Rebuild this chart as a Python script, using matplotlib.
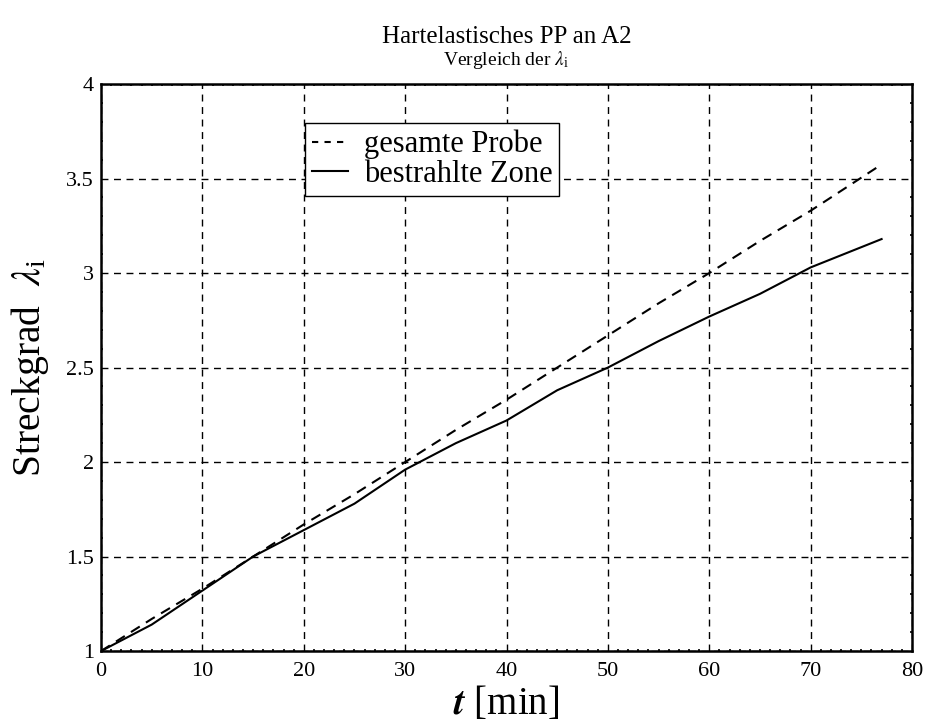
import numpy as np
import matplotlib
matplotlib.use("Agg")
import matplotlib.pyplot as plt
from matplotlib.ticker import MultipleLocator

# Zeitpunkte [min] und Streckgrade
zeit = [0, 5, 10, 15, 20, 25, 30, 35, 40, 45, 50, 55, 60, 65, 70, 77]
gesamte_probe = [1.0, 1.17, 1.33, 1.50, 1.67, 1.83, 2.00, 2.17, 2.33, 2.50,
                 2.67, 2.84, 3.00, 3.17, 3.33, 3.575]
bestrahlte_zone = [1.0, 1.14, 1.32, 1.50, 1.64, 1.78, 1.96, 2.10, 2.22, 2.38,
                   2.50, 2.64, 2.77, 2.89, 3.03, 3.18]

plt.rcParams['font.family'] = ['Liberation Serif', 'DejaVu Serif']
plt.rcParams['mathtext.fontset'] = 'stix'

fig = plt.figure(figsize=(9.33, 7.25), dpi=100)
ax = fig.add_axes([0.1083, 0.102, 0.8692, 0.782])

ax.plot(zeit, gesamte_probe, color='black', linestyle=(0, (5, 3.5)), linewidth=1.5,
        label='gesamte Probe')
ax.plot(zeit, bestrahlte_zone, color='black', linestyle='-', linewidth=1.5,
        label='bestrahlte Zone')

ax.set_xlim(0, 80)
ax.set_ylim(1, 4)
ax.xaxis.set_major_locator(MultipleLocator(10))
ax.xaxis.set_minor_locator(MultipleLocator(1))
ax.yaxis.set_minor_locator(MultipleLocator(0.1))
ax.set_yticks([1, 1.5, 2, 2.5, 3, 3.5, 4])
ax.set_yticklabels(['1', '1.5', '2', '2.5', '3', '3.5', '4'])

ax.grid(True, which='major', color='black', linestyle=(0, (5, 4)), linewidth=1)
ax.tick_params(which='major', direction='in', length=0, labelsize=16)
ax.tick_params(axis='x', which='major', pad=8)
ax.tick_params(axis='y', which='major', pad=5)
ax.tick_params(which='minor', direction='in', length=1.2, width=1.2,
               top=True, right=True)
for s in ax.spines.values():
    s.set_linewidth(1.8)

ax.set_xlabel(r'$\mathbfit{t}$ [min]', fontsize=28, labelpad=3)
ax.set_ylabel(r'Streckgrad  $\lambda_\mathregular{i}$', fontsize=28.5, labelpad=11)

ax.text(0.5, 1.083, 'Hartelastisches PP an A2', transform=ax.transAxes,
        ha='center', va='center', fontsize=18)
ax.text(0.5, 1.042, r'Vergleich der $\lambda_\mathregular{i}$', transform=ax.transAxes,
        ha='center', va='center', fontsize=14)

leg = ax.legend(loc='upper left', bbox_to_anchor=(0.2515, 0.931), fontsize=22,
                frameon=True, fancybox=False, framealpha=1, edgecolor='black',
                handlelength=1.2, borderpad=0.22, labelspacing=0.02,
                handletextpad=0.5, borderaxespad=0)
leg.get_frame().set_linewidth(1.0)
for h in leg.get_lines():
    if h.get_linestyle() != '-':
        h.set_dashes((3, 3))

fig.savefig('out.png', dpi=100)
